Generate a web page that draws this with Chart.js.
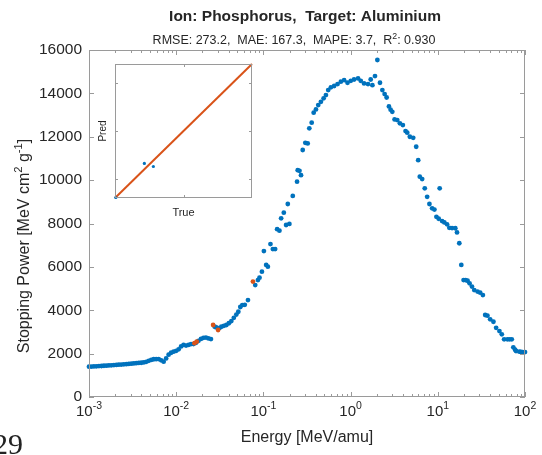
<!DOCTYPE html>
<html lang="en">
<head>
<meta charset="UTF-8">
<title>Stopping Power: Phosphorus in Aluminium</title>
<script src="https://cdn.jsdelivr.net/npm/chart.js@4.4.1/dist/chart.umd.min.js"></script>
<style>
    * { font-family: "Liberation Sans", Arial, sans-serif; box-sizing: border-box; }
    body { margin: 0; background: #fff; }
    .wrap { position: relative; width: 542px; height: 455px; overflow: hidden; }
    #mainChart { position: absolute; left: 0; top: 0; }
    #insetChart { position: absolute; left: 95px; top: 60px; }
    .page-num { position: absolute; left: -7px; top: 427px; font-family: "Liberation Serif", serif; font-size: 30px; color: #222; }
</style>
</head>
<body>
<div class="wrap">
    <canvas id="mainChart" width="542" height="455"></canvas>
    <canvas id="insetChart" width="165" height="165"></canvas>
    <div class="page-num">29</div>
</div>

<script>
// training points (blue)
const energyTrain = [
    0.00100, 0.001068, 0.00114, 0.001218, 0.0013, 0.001389, 0.001483, 0.001584, 0.001692, 0.001806,
    0.001929, 0.00206, 0.0022, 0.00235, 0.002509, 0.00268, 0.002862, 0.003056, 0.003264, 0.003485,
    0.003722, 0.003975, 0.004245, 0.004533, 0.004841, 0.00517, 0.005521, 0.005895, 0.006296, 0.006724,
    0.00718, 0.007668, 0.008188, 0.008745, 0.009339, 0.0100, 0.01066, 0.01138, 0.01215, 0.01297,
    0.01385, 0.01479, 0.0158, 0.01687, 0.01801, 0.01924, 0.02054, 0.02194, 0.02344, 0.02503,
    0.02765, 0.02892, 0.03129, 0.03298, 0.03523, 0.03761, 0.04017, 0.0429, 0.04581, 0.04893,
    0.05157, 0.05435, 0.05728, 0.06117, 0.06654, 0.0806, 0.08655, 0.09027, 0.09614, 0.1013,
    0.1076, 0.1125, 0.1205, 0.1284, 0.1364, 0.1437, 0.1527, 0.1597, 0.1714, 0.1821,
    0.1904, 0.1986, 0.2172, 0.2431, 0.2476, 0.2593, 0.27, 0.2824, 0.3024, 0.3221,
    0.336, 0.3579, 0.3772, 0.4007, 0.4256, 0.4568, 0.4905, 0.5212, 0.5536, 0.5943,
    0.648, 0.7088, 0.7728, 0.8428, 0.9218, 1.005, 1.096, 1.218, 1.307, 1.426,
    1.584, 1.701, 1.778, 1.904, 2.028, 2.172, 2.313, 2.457, 2.589, 2.751,
    2.876, 3.008, 3.195, 3.43, 3.674, 3.975, 4.267, 4.462, 4.777, 5.224,
    5.653, 5.958, 6.214, 6.618, 7.088, 7.548, 8.018, 8.61, 9.147, 9.638,
    10.24, 10.51, 11.2, 11.89, 12.77, 13.56, 14.57, 15.88, 16.61, 17.64,
    18.6, 19.76, 20.82, 21.94, 23.13, 24.64, 26.17, 28.55, 30.64, 32.89,
    34.95, 37.12, 39.86, 43.46, 46.67, 50.89, 54.2, 57.6, 62.8, 66.5,
    70.5, 73.5, 76.9, 78.9, 86.1, 90.0, 94.1, 100
];
const powerTrain = [
    1400, 1405, 1410, 1415, 1425, 1430, 1440, 1445, 1455, 1460,
    1470, 1480, 1490, 1495, 1505, 1515, 1525, 1535, 1550, 1560,
    1570, 1580, 1595, 1620, 1670, 1710, 1740, 1745, 1750, 1690,
    1630, 1780, 1950, 2040, 2090, 2130, 2200, 2330, 2400, 2370,
    2400, 2440, 2440, 2500, 2590, 2680, 2730, 2740, 2700, 2670,
    3240, 3210, 3180, 3240, 3280, 3320, 3400, 3500, 3650, 3800,
    3930, 4150, 4240, 4250, 4470, 5160, 5390, 5500, 5780, 6730,
    6090, 6010, 7050, 6820, 6820, 7740, 7670, 8240, 8500, 7930,
    8900, 7980, 9270, 9930, 10460, 10430, 10230, 11390, 11720, 11690,
    12390, 12650, 13110, 13260, 13460, 13610, 13770, 13920, 14150, 14280,
    14340, 14430, 14540, 14610, 14490, 14580, 14640, 14690, 14580, 14460,
    14430, 14640, 14380, 14800, 15540, 14490, 14150, 13970, 13810, 13400,
    13250, 13150, 12800, 12770, 12620, 12540, 12260, 12190, 12000, 11950,
    11540, 10920, 10160, 10050, 9620, 9230, 8900, 8700, 8640, 8310,
    8220, 9620, 8110, 8050, 7960, 7800, 7790, 7780, 7590, 7090,
    6090, 5390, 5390, 5360, 5240, 5090, 4930, 4860, 4810, 4700,
    3780, 3750, 3580, 3470, 3190, 3040, 2890, 2660, 2660, 2660,
    2660, 2290, 2180, 2120, 2090, 2080, 2070, 2070
];

// test points (orange)
const energyTest = [0.0162, 0.0172, 0.02651, 0.03024, 0.07588];
const powerTest = [2480, 2550, 3320, 3090, 5320];

// inset: predicted vs true
const insetTrue = [80, 3000, 3920];
const insetPred = [50, 3610, 3290];
const insetLine = [0, 14000];
const insetYTicks = [2000, 7000, 12000];
const insetXTicks = [7000];

const yTicks = [0, 2000, 4000, 6000, 8000, 10000, 12000, 14000, 16000];
const xTickExps = [-3, -2, -1, 0, 1, 2];

const ink = '#262626';
const frameColor = '#9a9a9a';
const blue = '#0072BD';
const orange = '#D95319';
const fam = '"Liberation Sans", Arial, sans-serif';

function toPoints(xs, ys) {
    return xs.map((x, i) => ({ x: x, y: ys[i] }));
}

// draw text with superscript parts, centred on (x, y)
function drawRich(ctx, parts, x, y, size, weight) {
    let total = 0;
    parts.forEach(p => {
        ctx.font = weight + ' ' + (p.sup ? size * 0.7 : size) + 'px ' + fam;
        p.w = ctx.measureText(p.t).width;
        total += p.w;
    });
    let cx = x - total / 2;
    ctx.textAlign = 'left';
    ctx.textBaseline = 'middle';
    parts.forEach(p => {
        ctx.font = weight + ' ' + (p.sup ? size * 0.7 : size) + 'px ' + fam;
        ctx.fillText(p.t, cx, p.sup ? y - size * 0.38 : y);
        cx += p.w;
    });
}

const matlabAxes = {
    id: 'matlabAxes',
    afterDraw(chart) {
        const ctx = chart.ctx;
        const a = chart.chartArea;
        const xs = chart.scales.x, ys = chart.scales.y;
        ctx.save();
        ctx.strokeStyle = frameColor;
        ctx.lineWidth = 1;
        ctx.strokeRect(a.left + 0.5, a.top + 0.5, a.right - a.left - 1, a.bottom - a.top - 1);

        ctx.beginPath();
        xTickExps.forEach((e, i) => {
            const px = Math.round(xs.getPixelForValue(Math.pow(10, e))) + 0.5;
            ctx.moveTo(px, a.bottom); ctx.lineTo(px, a.bottom - 5);
            ctx.moveTo(px, a.top); ctx.lineTo(px, a.top + 5);
            if (i < xTickExps.length - 1) {
                for (let m = 2; m <= 9; m++) {
                    const mx = Math.round(xs.getPixelForValue(m * Math.pow(10, e))) + 0.5;
                    ctx.moveTo(mx, a.bottom); ctx.lineTo(mx, a.bottom - 3);
                    ctx.moveTo(mx, a.top); ctx.lineTo(mx, a.top + 3);
                }
            }
        });
        yTicks.forEach(v => {
            const py = Math.round(ys.getPixelForValue(v)) + 0.5;
            ctx.moveTo(a.left, py); ctx.lineTo(a.left + 5, py);
            ctx.moveTo(a.right, py); ctx.lineTo(a.right - 5, py);
        });
        ctx.stroke();

        ctx.fillStyle = ink;
        xTickExps.forEach(e => {
            const px = xs.getPixelForValue(Math.pow(10, e));
            drawRich(ctx, [{ t: '10' }, { t: String(e), sup: true }], px, a.bottom + 15, 15, 'normal');
        });

        drawRich(ctx, [{ t: 'Energy [MeV/amu]' }], (a.left + a.right) / 2, 438, 16, 'normal');

        ctx.save();
        ctx.translate(25, 246);
        ctx.rotate(-Math.PI / 2);
        drawRich(ctx, [{ t: 'Stopping Power [MeV cm' }, { t: '2', sup: true }, { t: ' g' }, { t: '-1', sup: true }, { t: ']' }], 0, 0, 16, 'normal');
        ctx.restore();

        drawRich(ctx, [{ t: 'Ion: Phosphorus,  Target: Aluminium' }], 305, 17, 15.5, 'bold');
        drawRich(ctx, [{ t: 'RMSE: 273.2,  MAE: 167.3,  MAPE: 3.7,  R' }, { t: '2', sup: true }, { t: ': 0.930' }], 294, 41, 12.5, 'normal');
        ctx.restore();
    }
};

const insetAxes = {
    id: 'insetAxes',
    afterDraw(chart) {
        const ctx = chart.ctx;
        const a = chart.chartArea;
        const xs = chart.scales.x, ys = chart.scales.y;
        ctx.save();
        ctx.strokeStyle = frameColor;
        ctx.lineWidth = 1;
        ctx.strokeRect(a.left + 0.5, a.top + 0.5, a.right - a.left - 1, a.bottom - a.top - 1);
        ctx.beginPath();
        insetXTicks.forEach(v => {
            const px = Math.round(xs.getPixelForValue(v)) + 0.5;
            ctx.moveTo(px, a.bottom); ctx.lineTo(px, a.bottom - 3);
            ctx.moveTo(px, a.top); ctx.lineTo(px, a.top + 3);
        });
        insetYTicks.forEach(v => {
            const py = Math.round(ys.getPixelForValue(v)) + 0.5;
            ctx.moveTo(a.left, py); ctx.lineTo(a.left + 3, py);
            ctx.moveTo(a.right, py); ctx.lineTo(a.right - 3, py);
        });
        ctx.stroke();
        ctx.fillStyle = ink;
        drawRich(ctx, [{ t: 'True' }], (a.left + a.right) / 2, a.bottom + 15, 11, 'normal');
        ctx.save();
        ctx.translate(a.left - 12, (a.top + a.bottom) / 2);
        ctx.rotate(-Math.PI / 2);
        drawRich(ctx, [{ t: 'Pred' }], 0, 0, 10, 'normal');
        ctx.restore();
        ctx.restore();
    }
};

new Chart(document.getElementById('mainChart'), {
    type: 'scatter',
    data: {
        datasets: [
            {
                data: toPoints(energyTest, powerTest),
                backgroundColor: orange,
                pointRadius: 2.4,
                borderWidth: 0,
                clip: false
            },
            {
                data: toPoints(energyTrain, powerTrain),
                backgroundColor: blue,
                pointRadius: 2.4,
                borderWidth: 0,
                clip: false
            }
        ]
    },
    options: {
        responsive: false,
        animation: false,
        layout: { padding: { top: 50, right: 17, left: 0, bottom: 0 } },
        plugins: { legend: { display: false }, tooltip: { enabled: false } },
        scales: {
            x: {
                type: 'logarithmic',
                min: 1e-3,
                max: 100,
                grid: { display: false, drawTicks: false },
                border: { display: false },
                ticks: { display: false },
                afterFit: s => { s.height = 58; }
            },
            y: {
                min: 0,
                max: 16000,
                grid: { display: false, drawTicks: false },
                border: { display: false },
                ticks: {
                    color: ink,
                    font: { size: 15.5, family: fam },
                    padding: 7,
                    callback: v => String(v)
                },
                afterBuildTicks: s => { s.ticks = yTicks.map(v => ({ value: v })); },
                afterFit: s => { s.width = 89; }
            }
        }
    },
    plugins: [matlabAxes]
});

new Chart(document.getElementById('insetChart'), {
    type: 'scatter',
    data: {
        datasets: [
            {
                data: toPoints(insetTrue, insetPred),
                backgroundColor: blue,
                pointRadius: 1.6,
                borderWidth: 0,
                clip: false
            },
            {
                data: toPoints(insetLine, insetLine),
                showLine: true,
                borderColor: orange,
                borderWidth: 2,
                pointRadius: 0,
                clip: false
            }
        ]
    },
    options: {
        responsive: false,
        animation: false,
        layout: { padding: { top: 4, right: 8, left: 20, bottom: 27 } },
        plugins: { legend: { display: false }, tooltip: { enabled: false } },
        scales: {
            x: { display: false, min: insetLine[0], max: insetLine[1] },
            y: { display: false, min: insetLine[0], max: insetLine[1] }
        }
    },
    plugins: [insetAxes]
});
</script>
</body>
</html>
